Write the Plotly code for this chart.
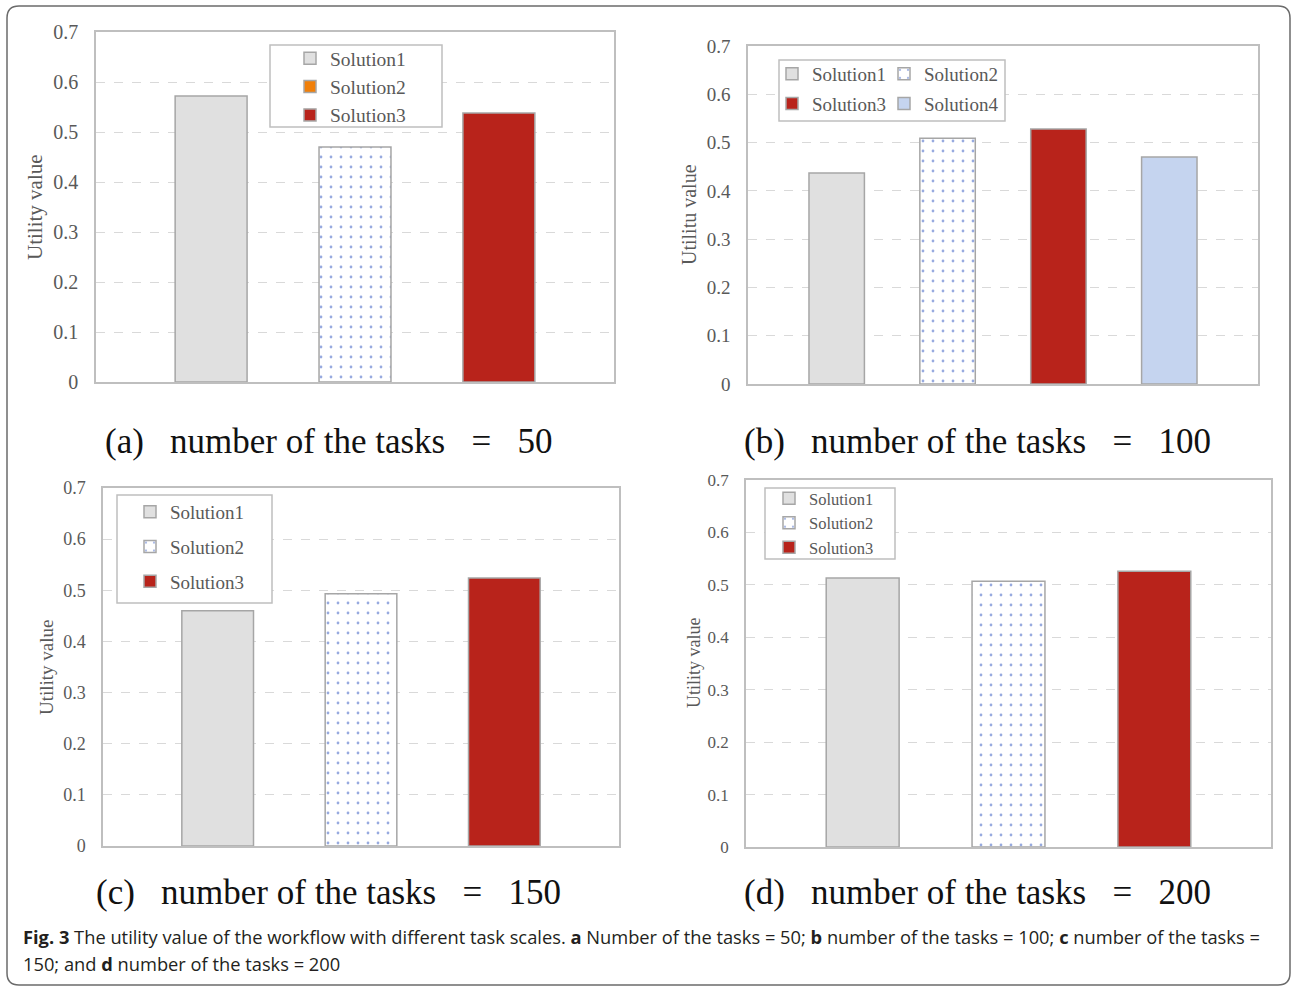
import plotly.graph_objects as go

W, H = 1292, 986

# ---- data -------------------------------------------------------------
solutions = ["Solution1", "Solution2", "Solution3", "Solution4"]
values_a = [0.572, 0.470, 0.538]          # 50 tasks
values_b = [0.437, 0.509, 0.528, 0.470]   # 100 tasks
values_c = [0.460, 0.493, 0.524]          # 150 tasks
values_d = [0.513, 0.507, 0.526]          # 200 tasks
y_ticks = [0, 0.1, 0.2, 0.3, 0.4, 0.5, 0.6, 0.7]
y_titles = ["Utility value", "Utilitu value", "Utility value", "Utility value"]
task_counts = [50, 100, 150, 200]
panel_letters = ["a", "b", "c", "d"]
caption_1 = ("<b>Fig. 3</b> The utility value of the workflow with different task scales. "
             "<b>a</b> Number of the tasks = 50; <b>b</b> number of the tasks = 100; "
             "<b>c</b> number of the tasks =")
caption_2 = "150; and <b>d</b> number of the tasks = 200"

NB = "\u00a0"
panel_titles = [
    f"({ch}){NB}{NB} number of the tasks {NB}{NB}={NB}{NB} {n}"
    for ch, n in zip(panel_letters, task_counts)
]

# ---- styles -----------------------------------------------------------
SERIF = "Liberation Serif"
GRAY_TXT = "#595959"
BORDER = "#bfbfbf"
fills = {"Solution1": "#e0e0e0", "Solution2": "#ffffff",
         "Solution3": "#b8231b", "Solution4": "#c5d4ef"}
dot_pattern = dict(shape=".", fgcolor="#2f55c0", bgcolor="#ffffff",
                   size=10, solidity=0.06)


def px(x):
    return x / W


def py(y):
    return 1 - y / H


# plot-area boxes (left, top, right, bottom) in pixels, plus text sizes
panels = [
    dict(vals=values_a, box=(96, 32, 614, 382), tick=20, ytitle_xy=(35, 207),
         title_xy=(328, 441), legends=[("legend", [0, 1, 2])],
         legend_box=(270, 45, 442, 127)),
    dict(vals=values_b, box=(748, 46, 1258, 384), tick=19, ytitle_xy=(689, 215),
         title_xy=(977, 441), legends=[("legend2", [0, 2]), ("legend3", [1, 3])],
         legend_box=(779, 60, 1005, 121)),
    dict(vals=values_c, box=(103, 488, 619, 846), tick=18, ytitle_xy=(46, 667),
         title_xy=(328, 892), legends=[("legend4", [0, 1, 2])],
         legend_box=(117, 495, 272, 603)),
    dict(vals=values_d, box=(746, 480, 1271, 847), tick=17, ytitle_xy=(694, 663),
         title_xy=(977, 892), legends=[("legend5", [0, 1, 2])],
         legend_box=(765, 488, 895, 559)),
]

legend_layout = {
    "legend": dict(xy=(290, 39), size=19.5, gap=0),
    "legend2": dict(xy=(772, 55), size=19, gap=2),
    "legend3": dict(xy=(884, 55), size=19, gap=2),
    "legend4": dict(xy=(130, 493), size=19, gap=7),
    "legend5": dict(xy=(769, 481), size=16.5, gap=0),
}

fig = go.Figure()
layout = dict(
    width=W, height=H, margin=dict(l=0, r=0, t=0, b=0, autoexpand=False),
    paper_bgcolor="white", plot_bgcolor="white",
    barmode="overlay", shapes=[], annotations=[],
)

for p_i, panel in enumerate(panels):
    sfx = "" if p_i == 0 else str(p_i + 1)
    xa, ya = "x" + sfx, "y" + sfx
    vals = panel["vals"]
    n = len(vals)
    leg_of = {}
    for leg_name, idxs in panel["legends"]:
        for k in idxs:
            leg_of[k] = leg_name

    for k, v in enumerate(vals):
        name = solutions[k]
        marker = dict(color=fills[name], line=dict(color="#a6a6a6", width=1.5))
        if name == "Solution2":
            marker["pattern"] = dot_pattern
        show = True
        if p_i == 0 and name == "Solution2":
            # the first chart's legend shows an orange key for Solution2
            fig.add_trace(go.Bar(
                x=[None], y=[None], name=name, xaxis=xa, yaxis=ya,
                legend=leg_of[k], legendgroup=f"{p_i}-{k}",
                marker=dict(color="#f07f09", line=dict(color="#a6a6a6", width=1.5)),
            ))
            show = False
        fig.add_trace(go.Bar(
            x=[k], y=[v], name=name, width=0.5, xaxis=xa, yaxis=ya,
            marker=marker, showlegend=show, legend=leg_of[k],
            legendgroup=f"{p_i}-{k}-bar" if not show else f"{p_i}-{k}",
            hoverinfo="skip",
        ))

    l, t, r, b = panel["box"]
    layout["xaxis" + sfx] = dict(
        domain=[px(l), px(r)], range=[-0.8, n - 0.2], anchor=ya,
        showticklabels=False, showgrid=False, zeroline=False,
        showline=True, mirror=True, linecolor=BORDER, linewidth=1.5,
        fixedrange=True, automargin=False,
    )
    layout["yaxis" + sfx] = dict(
        domain=[py(b), py(t)], range=[0, 0.7], anchor=xa,
        tickvals=y_ticks, ticks="outside", ticklen=12,
        tickcolor="rgba(0,0,0,0)",
        tickfont=dict(family=SERIF, size=panel["tick"], color=GRAY_TXT),
        showgrid=True, gridcolor="#d9d9d9", griddash="dash", gridwidth=1,
        zeroline=False, showline=True, mirror=True, linecolor=BORDER,
        linewidth=1.5, fixedrange=True, automargin=False,
    )

    # legend frame
    bl, bt, br, bb = panel["legend_box"]
    layout["shapes"].append(dict(
        type="rect", xref="paper", yref="paper", x0=px(bl), x1=px(br),
        y0=py(bb), y1=py(bt), line=dict(color=BORDER, width=1.5),
        fillcolor="white", layer="above",
    ))

    # y-axis title
    tx, ty = panel["ytitle_xy"]
    layout["annotations"].append(dict(
        text=y_titles[p_i], x=px(tx), y=py(ty), xref="paper", yref="paper",
        showarrow=False, textangle=-90, xanchor="center", yanchor="middle",
        font=dict(family=SERIF, size=panel["tick"] + 1, color=GRAY_TXT),
    ))

    # chart title below the plot
    cx, cy = panel["title_xy"]
    layout["annotations"].append(dict(
        text=panel_titles[p_i], x=px(cx), y=py(cy), xref="paper", yref="paper",
        showarrow=False, xanchor="center", yanchor="middle",
        font=dict(family=SERIF, size=35, color="#111111"),
    ))

for leg_name, spec in legend_layout.items():
    lx, ly = spec["xy"]
    layout[leg_name] = dict(
        x=px(lx), y=py(ly), xanchor="left", yanchor="top",
        bgcolor="rgba(0,0,0,0)", borderwidth=0, orientation="v",
        font=dict(family=SERIF, size=spec["size"], color=GRAY_TXT),
        tracegroupgap=spec["gap"], traceorder="grouped",
    )

# caption
for text, yy in ((caption_1, 936), (caption_2, 963)):
    layout["annotations"].append(dict(
        text=text, x=px(21), y=py(yy), xref="paper", yref="paper",
        showarrow=False, xanchor="left", yanchor="middle", align="left",
        font=dict(family="Open Sans", size=18.3, color="#231f20"),
    ))

# rounded outer frame
x0, y0, x1, y1, rr = 7, 6, 1290, 985, 12
path = (f"M {px(x0 + rr)} {py(y0)} L {px(x1 - rr)} {py(y0)} "
        f"Q {px(x1)} {py(y0)} {px(x1)} {py(y0 + rr)} "
        f"L {px(x1)} {py(y1 - rr)} Q {px(x1)} {py(y1)} {px(x1 - rr)} {py(y1)} "
        f"L {px(x0 + rr)} {py(y1)} Q {px(x0)} {py(y1)} {px(x0)} {py(y1 - rr)} "
        f"L {px(x0)} {py(y0 + rr)} Q {px(x0)} {py(y0)} {px(x0 + rr)} {py(y0)} Z")
layout["shapes"].append(dict(type="path", path=path, xref="paper", yref="paper",
                             line=dict(color="#6b6b6b", width=1.5), layer="above"))

fig.update_layout(**layout)
fig.write_html("out.html")
